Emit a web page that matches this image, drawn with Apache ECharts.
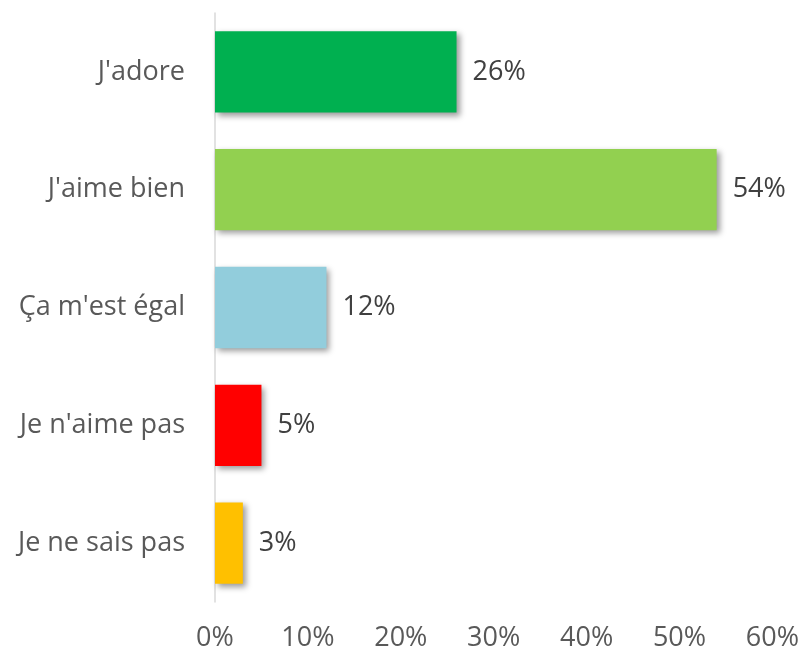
<!DOCTYPE html>
<html>
<head>
<meta charset="utf-8">
<script src="https://cdn.jsdelivr.net/npm/echarts@6/dist/echarts.min.js"></script>
<style>
  html, body { margin: 0; padding: 0; background: #fff; }
  #chart { width: 802px; height: 657px; }
</style>
</head>
<body>
<div id="chart"></div>
<script>
  var categories = ["J'adore", "J'aime bien", "Ça m'est égal", "Je n'aime pas", "Je ne sais pas"];
  var values = [26, 54, 12, 5, 3];
  var colors = ['#00B050', '#92D050', '#92CDDC', '#FF0000', '#FFC000'];
  var tickLabels = ['0%', '10%', '20%', '30%', '40%', '50%', '60%'];

  var fontName = '"Open Sans", "Noto Sans", sans-serif';

  var chart = echarts.init(document.getElementById('chart'));

  var barData = values.map(function (v, i) {
    return {value: v, itemStyle: {color: colors[i]}};
  });

  chart.setOption({
    animation: false,
    grid: {left: 215, right: 29, top: 13, bottom: 55},
    xAxis: {
        type: 'value',
        min: 0,
        max: 60,
        interval: 10,
        axisLine: {show: false},
        axisTick: {show: false},
        splitLine: {show: false},
        axisLabel: {
            color: '#595959',
            fontSize: 27,
            fontFamily: fontName,
            margin: 23,
            formatter: function (v) { return tickLabels[v / 10]; }
        }
    },
    yAxis: {
        type: 'category',
        data: categories,
        inverse: true,
        axisLine: {show: true, lineStyle: {color: '#D9D9D9', width: 1.5}},
        axisTick: {show: false},
        axisLabel: {
            color: '#595959',
            fontSize: 27,
            fontFamily: fontName,
            margin: 30
        }
    },
    series: [{
        type: 'bar',
        data: barData,
        barCategoryGap: '31%',
        itemStyle: {
            shadowColor: 'rgba(0,0,0,0.4)',
            shadowBlur: 6,
            shadowOffsetX: 3,
            shadowOffsetY: 3
        },
        label: {
            show: true,
            position: 'right',
            distance: 16,
            color: '#404040',
            fontSize: 27,
            fontFamily: fontName,
            formatter: '{c}%'
        }
    }]
  });
</script>
</body>
</html>
